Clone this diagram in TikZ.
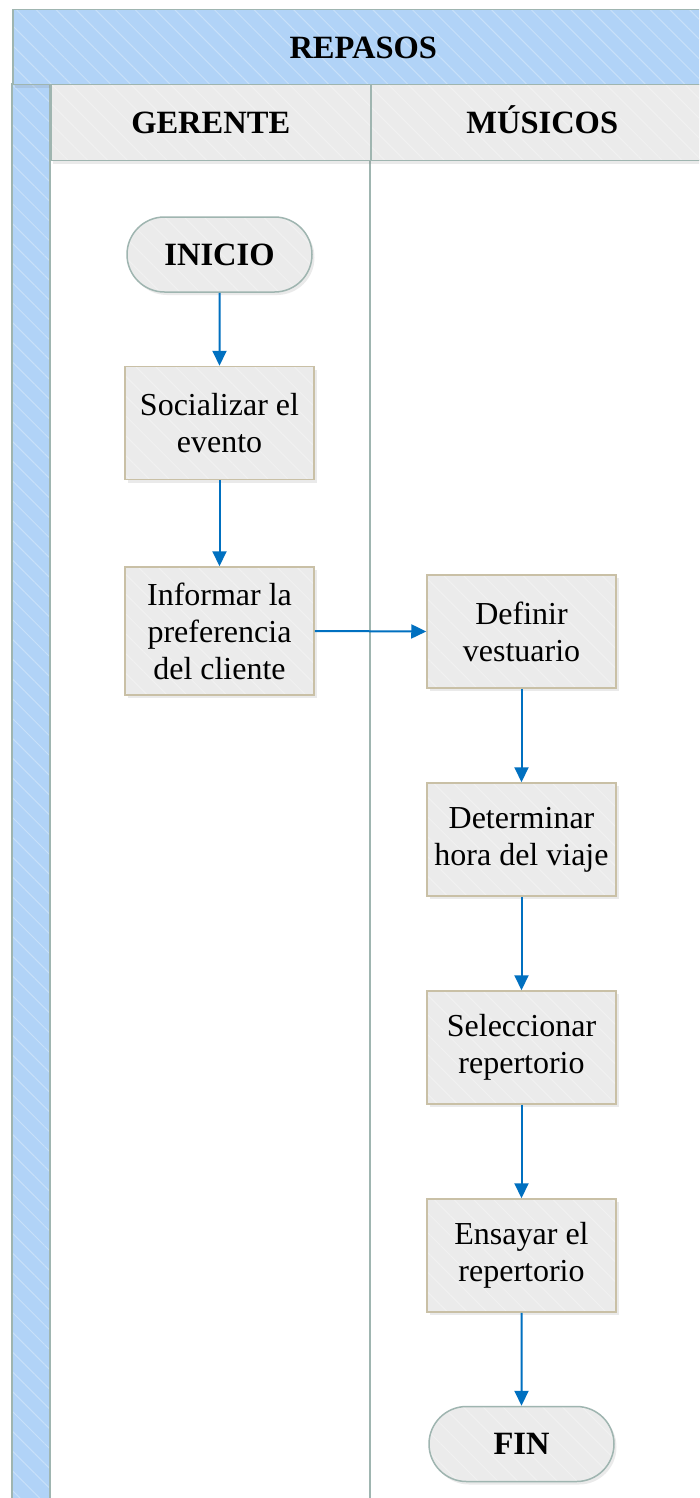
\documentclass[tikz,border=0pt]{standalone}
\usepackage{fontspec}
\setmainfont{Liberation Serif}
\usetikzlibrary{arrows.meta,shapes.misc,shadows,patterns.meta}

\definecolor{bandblue}{HTML}{B1D3F7}
\definecolor{frameline}{HTML}{9FB5B0}
\definecolor{cellgray}{HTML}{EBEBEB}
\definecolor{boxline}{HTML}{C9C0A6}
\definecolor{flowblue}{HTML}{0070C0}

\tikzset{
  % flat fill with faint diagonal hatching, border stroked on top
  hatchfill/.style={preaction={fill=#1},
    preaction={pattern={Lines[angle=-45,distance=14pt,line width=1pt]},pattern color=white!30!#1}},
  shade/.style={drop shadow={opacity=0.16,shadow xshift=2.5pt,shadow yshift=-3pt}},
  band/.style={draw=frameline,line width=1.5pt,hatchfill=bandblue},
  headcell/.style={shade,draw=frameline,line width=1.5pt,hatchfill=cellgray,
    font=\fontsize{32.5}{37}\selectfont\bfseries,inner sep=0pt,
    text height=22pt,text depth=0pt},
  lanebody/.style={draw=frameline,line width=1.5pt,fill=white},
  stepbox/.style={rectangle,shade,draw=boxline,line width=1.5pt,hatchfill=cellgray,
    minimum width=189pt,minimum height=113pt,align=center,inner sep=2pt,
    font=\fontsize{32}{37}\selectfont},
  terminal/.style={rounded rectangle,shade,draw=frameline,line width=1.5pt,hatchfill=cellgray,
    minimum width=189pt,minimum height=75pt,inner sep=2pt,
    font=\fontsize{32.5}{37}\selectfont\bfseries},
  flow/.style={draw=flowblue,line width=2pt,-{Triangle[length=15pt,width=14pt]}}
}

\begin{document}
\begin{tikzpicture}[x=1pt,y=-1pt]
\useasboundingbox (0,0) rectangle (699,1498);
\clip (0,0) rectangle (699,1498);

% pool frame: lane bodies, left strip, title band and lane headers
\path[lanebody] (50,160) rectangle (370,1520);
\path[lanebody] (370,160) rectangle (713,1520);
\path[band] (12,84) rectangle (50,1520);
\node[shade,band,minimum width=701pt,minimum height=75pt,inner sep=0pt,anchor=north west,
  font=\fontsize{32.5}{37}\selectfont\bfseries,text height=22pt,text depth=0pt] (title) at (12,9) {REPASOS};
\node[headcell,minimum width=320pt,minimum height=76pt,anchor=north west] (gerente) at (50,84) {GERENTE};
\node[headcell,minimum width=343pt,minimum height=76pt,anchor=north west] (musicos) at (370,84) {MÚSICOS};

% GERENTE lane
\node[terminal] (inicio) at (219.5,254.5) {INICIO};
\node[stepbox] (socializar) at (219.5,423) {Socializar el\\evento};
\node[stepbox,minimum height=128pt] (informar) at (219.5,631) {Informar la\\preferencia\\del cliente};

% MÚSICOS lane
\node[stepbox] (definir) at (521.5,631.5) {Definir\\vestuario};
\node[stepbox] (determinar) at (521.5,839.5) {Determinar\\hora del viaje};
\node[stepbox] (seleccionar) at (521.5,1047.5) {Seleccionar\\repertorio};
\node[stepbox] (ensayar) at (521.5,1255.5) {Ensayar el\\repertorio};
\node[terminal] (fin) at (521.5,1444) {FIN};

% connectors
\draw[flow] (inicio) -- (socializar);
\draw[flow] (socializar) -- (informar);
\draw[flow] (informar.east) -- (definir.west);
\draw[flow] (definir) -- (determinar);
\draw[flow] (determinar) -- (seleccionar);
\draw[flow] (seleccionar) -- (ensayar);
\draw[flow] (ensayar) -- (fin);
\end{tikzpicture}
\end{document}
